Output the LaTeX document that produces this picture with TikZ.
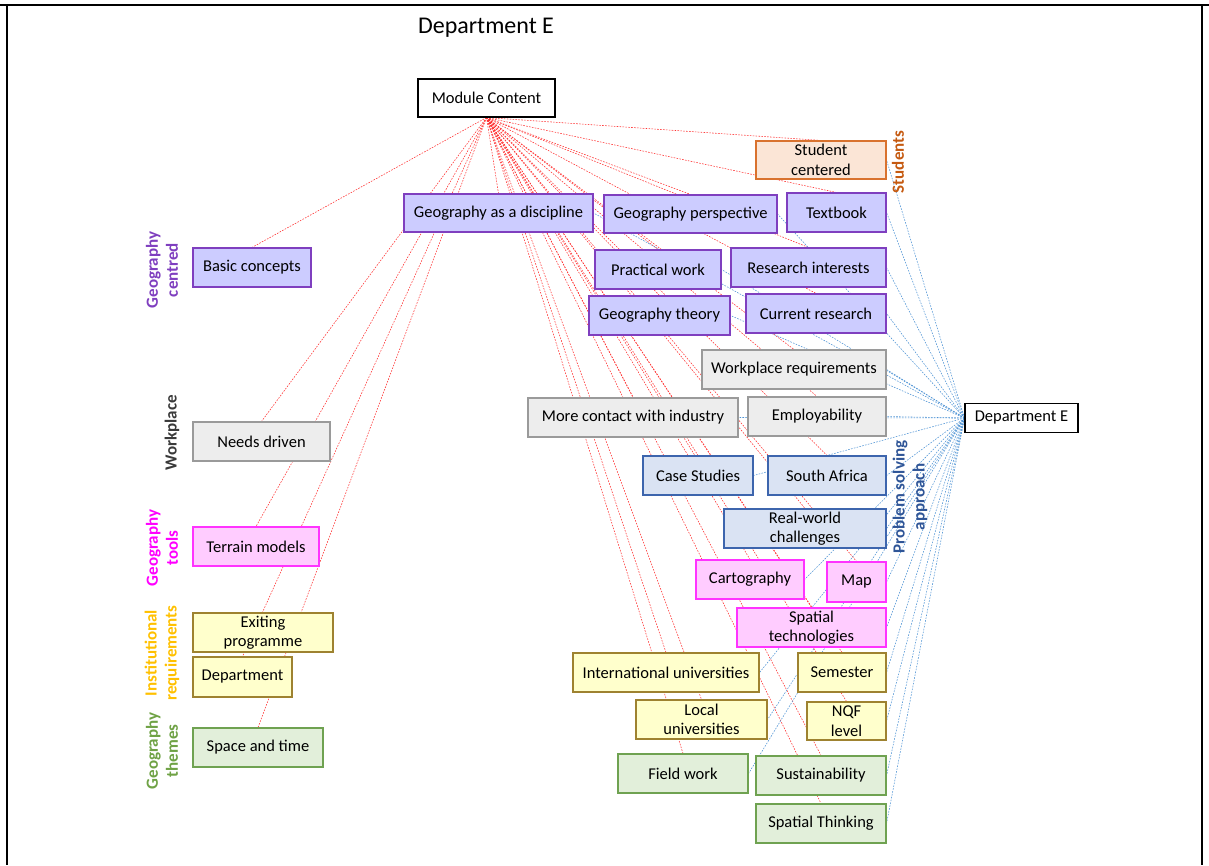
\documentclass[tikz,border=0pt]{standalone}
\usepackage{fontspec}
\setmainfont{Carlito}
\usetikzlibrary{backgrounds}

\definecolor{purpleFill}{HTML}{CCCCFF}
\definecolor{purpleLine}{HTML}{7F3FBF}
\definecolor{grayFill}{HTML}{EDEDED}
\definecolor{grayLine}{HTML}{9A9A9A}
\definecolor{blueFill}{HTML}{DAE3F3}
\definecolor{blueLine}{HTML}{3D65AD}
\definecolor{pinkFill}{HTML}{FFCCFF}
\definecolor{pinkLine}{HTML}{FF33FF}
\definecolor{yellowFill}{HTML}{FFFFCC}
\definecolor{yellowLine}{HTML}{9E8230}
\definecolor{greenFill}{HTML}{E2EFDA}
\definecolor{greenLine}{HTML}{6FA251}
\definecolor{orangeFill}{HTML}{FBE5D6}
\definecolor{orangeLine}{HTML}{D9722E}
\definecolor{redLink}{HTML}{FF3030}
\definecolor{blueLink}{HTML}{4E93D4}
\definecolor{lblPurple}{HTML}{7F3FBF}
\definecolor{lblGray}{HTML}{3A3A3A}
\definecolor{lblPink}{HTML}{FF00FF}
\definecolor{lblGold}{HTML}{FFC000}
\definecolor{lblGreen}{HTML}{6FA245}
\definecolor{lblOrange}{HTML}{C55A11}
\definecolor{lblBlue}{HTML}{2F5597}

\tikzset{
  box/.style={draw, line width=1.1pt, inner sep=0pt, align=center,
    font=\fontsize{16.5}{19.5}\selectfont},
  plainbox/.style={box, draw=black, fill=white},
  purplebox/.style={box, draw=purpleLine, fill=purpleFill},
  graybox/.style={box, draw=grayLine, fill=grayFill},
  bluebox/.style={box, draw=blueLine, fill=blueFill},
  pinkbox/.style={box, draw=pinkLine, fill=pinkFill},
  yellowbox/.style={box, draw=yellowLine, fill=yellowFill},
  greenbox/.style={box, draw=greenLine, fill=greenFill},
  orangebox/.style={box, draw=orangeLine, fill=orangeFill},
  redlink/.style={draw=redLink, line width=0.55pt, dash pattern=on 1.6pt off 1.3pt},
  bluelink/.style={draw=blueLink, line width=0.55pt, dash pattern=on 1.6pt off 1.3pt},
  sidelabel/.style={rotate=90, align=center, inner sep=0pt,
    font=\fontsize{17}{20}\selectfont\bfseries},
}

\begin{document}
\begin{tikzpicture}[x=1pt, y=-1pt]
\useasboundingbox (0,0) rectangle (1209,865);

% frame
\draw[line width=2pt] (0,5) -- (1209,5);
\draw[line width=1.3pt] (7,5) -- (7,865);
\draw[line width=1.3pt] (1202,5) -- (1202,865);

% title
\node[font=\fontsize{24}{28}\selectfont] (title) at (486,28) {Department E};

% hubs
\node[plainbox, minimum width=137, minimum height=38] (mc) at (486.5,98) {Module Content};
\node[plainbox, minimum width=113, minimum height=29] (de) at (1021.5,418) {Department E};

% left column
\node[purplebox, minimum width=118, minimum height=39] (bc) at (252,267.5) {Basic concepts};
\node[graybox, minimum width=137, minimum height=39] (nd) at (261.5,441.5) {Needs driven};
\node[pinkbox, minimum width=126, minimum height=39] (tm) at (256,546.5) {Terrain models};
\node[yellowbox, minimum width=140, minimum height=39] (ep) at (263,632.5) {Exiting\\programme};
\node[yellowbox, minimum width=99, minimum height=40] (dep) at (242.5,677) {Department};
\node[greenbox, minimum width=130, minimum height=39] (sat) at (258,747.5) {Space and time};

% right cluster
\node[orangebox, minimum width=130, minimum height=38] (sc) at (821,160) {Student\\centered};
\node[purplebox, minimum width=189, minimum height=38] (gad) at (498.5,213) {Geography as a discipline};
\node[purplebox, minimum width=173, minimum height=38] (gp) at (690.5,214) {Geography perspective};
\node[purplebox, minimum width=99, minimum height=39] (tb) at (836.5,212.5) {Textbook};
\node[purplebox, minimum width=126, minimum height=39] (pw) at (658,269.5) {Practical work};
\node[purplebox, minimum width=155, minimum height=39] (ri) at (808.5,267.5) {Research interests};
\node[purplebox, minimum width=141, minimum height=39] (gt) at (659.5,315.5) {Geography theory};
\node[purplebox, minimum width=140, minimum height=39] (cr) at (816,313.5) {Current research};
\node[graybox, minimum width=184, minimum height=39] (wr) at (794,369.5) {Workplace requirements};
\node[graybox, minimum width=210, minimum height=39] (mci) at (633,417.5) {More contact with industry};
\node[graybox, minimum width=138, minimum height=39] (emp) at (817,416.5) {Employability};
\node[bluebox, minimum width=110, minimum height=39] (cs) at (698,475.5) {Case Studies};
\node[bluebox, minimum width=118, minimum height=39] (sa) at (827,475.5) {South Africa};
\node[bluebox, minimum width=162, minimum height=39] (rw) at (805,528.5) {Real-world\\challenges};
\node[pinkbox, minimum width=108, minimum height=39] (ca) at (750,579.5) {Cartography};
\node[pinkbox, minimum width=59, minimum height=40] (map) at (856.5,582) {Map};
\node[pinkbox, minimum width=149, minimum height=39] (st) at (811.5,627.5) {Spatial\\technologies};
\node[yellowbox, minimum width=186, minimum height=39] (iu) at (666,672.5) {International universities};
\node[yellowbox, minimum width=88, minimum height=39] (sem) at (842,672.5) {Semester};
\node[yellowbox, minimum width=131, minimum height=39] (lu) at (701.5,719.5) {Local\\universities};
\node[yellowbox, minimum width=79, minimum height=38] (nqf) at (846.5,721) {NQF\\level};
\node[greenbox, minimum width=130, minimum height=39] (fw) at (683,773.5) {Field work};
\node[greenbox, minimum width=130, minimum height=39] (sus) at (821,775.5) {Sustainability};
\node[greenbox, minimum width=130, minimum height=39] (sth) at (821,823.5) {Spatial Thinking};

% category labels
\node[sidelabel, text=lblPurple] (lgc) at (162,270) {Geography\\centred};
\node[sidelabel, text=lblGray] (lwp) at (172,433) {Workplace};
\node[sidelabel, text=lblPink] (lgt) at (162,548) {Geography\\tools};
\node[sidelabel, text=lblGold] (lir) at (162,653) {Institutional\\requirements};
\node[sidelabel, text=lblGreen] (lgth) at (162,751) {Geography\\themes};
\node[sidelabel, text=lblOrange] (lst) at (898,162) {Students};
\node[sidelabel, text=lblBlue] (lpsa) at (910,497) {Problem solving\\approach};

% connectors, kept behind the boxes
\begin{scope}[on background layer]
  \foreach \n in {bc,nd,tm,dep,sat,
                  sc,gad,gp,tb,pw,ri,gt,cr,wr,mci,emp,cs,sa,rw,
                  ca,map,st,iu,sem,lu,nqf,fw,sus,sth}
    \draw[redlink] (mc.south) -- (\n.north);
  \foreach \n in {sc,gad,gp,tb,pw,ri,gt,cr,wr,mci,emp,cs,sa,rw,
                  ca,map,st,iu,sem,lu,nqf,fw,sus,sth}
    \draw[bluelink] (de.west) -- (\n.east);
\end{scope}
\end{tikzpicture}
\end{document}
